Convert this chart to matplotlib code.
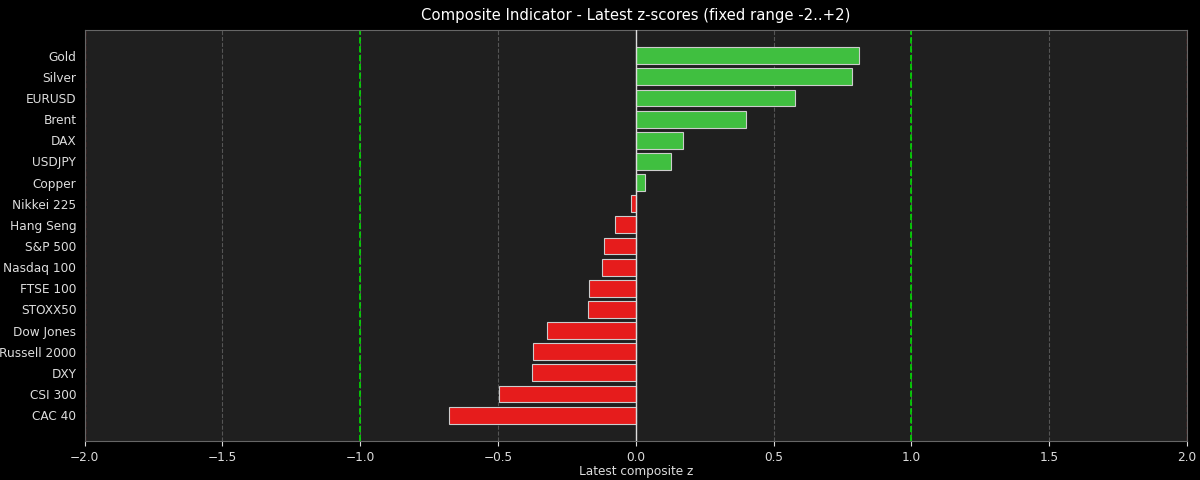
import numpy as np
import matplotlib
matplotlib.use("Agg")
import matplotlib.pyplot as plt

names = ["Gold", "Silver", "EURUSD", "Brent", "DAX", "USDJPY", "Copper",
         "Nikkei 225", "Hang Seng", "S&P 500", "Nasdaq 100", "FTSE 100",
         "STOXX50", "Dow Jones", "Russell 2000", "DXY", "CSI 300", "CAC 40"]
zscores = [0.810, 0.786, 0.578, 0.400, 0.172, 0.128, 0.034,
           -0.017, -0.077, -0.115, -0.124, -0.170,
           -0.174, -0.323, -0.374, -0.376, -0.497, -0.678]

fig = plt.figure(figsize=(12, 4.8), dpi=100, facecolor="black")
ax = fig.add_axes([0.0705, 0.081, 0.9187, 0.857])
ax.set_facecolor("#1f1f1f")

y = np.arange(len(names))
colors = ["#40bf40" if v >= 0 else "#e61c1c" for v in zscores]
ax.barh(y, zscores, height=0.8, color=colors, edgecolor="#cccccc", linewidth=0.8, zorder=3)

ax.axvline(0, color="#dddddd", linewidth=1.0, zorder=4)
for v in (-1, 1):
    ax.axvline(v, color="#00dd00", linestyle="--", linewidth=1.2, zorder=2)
for v in (-2, 2):
    ax.axvline(v, color="#aa2222", linestyle="--", linewidth=1.0, alpha=0.7, zorder=2)

ax.set_xlim(-2, 2)
ax.set_ylim(len(names) - 1 + 1.23, -1.23)
ax.set_yticks(y)
ax.set_yticklabels(names)
ax.xaxis.grid(True, linestyle="--", color="#555555", linewidth=0.8, zorder=1)

ax.tick_params(colors="#dddddd", labelsize=8.7)
ax.tick_params(axis="y", length=0, pad=6)
for s in ax.spines.values():
    s.set_color("#666666")

ax.set_xlabel("Latest composite z", color="#dddddd", fontsize=8.7, labelpad=1)
ax.set_title("Composite Indicator - Latest z-scores (fixed range -2..+2)",
             color="white", fontsize=10.7, pad=7)

fig.savefig("out.png", facecolor="black")
